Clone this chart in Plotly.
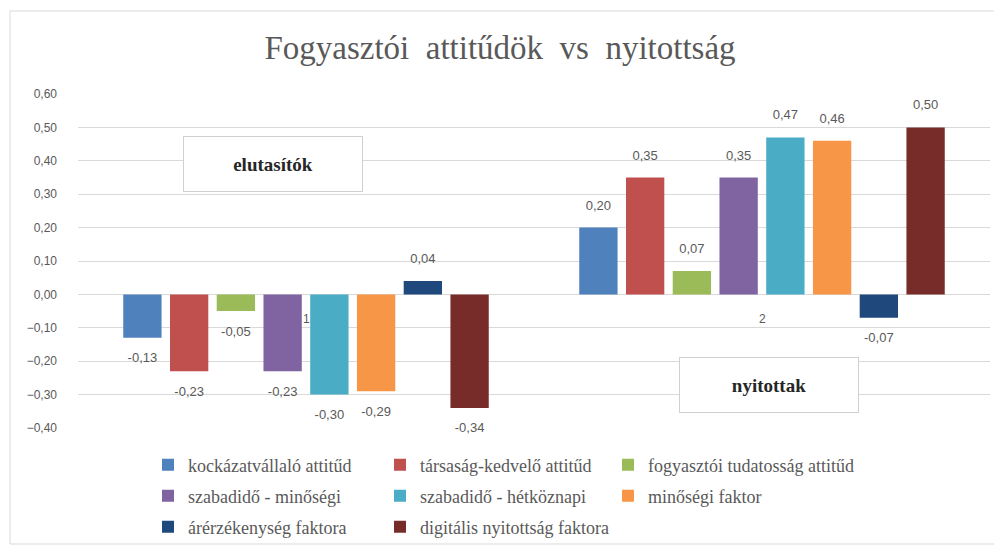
import plotly.graph_objects as go

categories = ["1", "2"]
series_names = [
    "kockázatvállaló attitűd",
    "társaság-kedvelő attitűd",
    "fogyasztói tudatosság attitűd",
    "szabadidő - minőségi",
    "szabadidő - hétköznapi",
    "minőségi faktor",
    "árérzékenység faktora",
    "digitális nyitottság faktora",
]
values = [
    [-0.13, 0.20],
    [-0.23, 0.35],
    [-0.05, 0.07],
    [-0.23, 0.35],
    [-0.30, 0.47],
    [-0.29, 0.46],
    [0.04, -0.07],
    [-0.34, 0.50],
]
colors = ["#4F81BD", "#C0504D", "#9BBB59", "#8064A2", "#4BACC6", "#F79646", "#1F497D", "#772C2A"]
y_ticks = [-0.4, -0.3, -0.2, -0.1, 0.0, 0.1, 0.2, 0.3, 0.4, 0.5, 0.6]

# the page body has an 8px margin; figure is sized to fill the rest of the window
OX, OY = 8, 8
W, H = 1002 - OX, 551 - OY
# plot area in page pixels: x 78..990, y 94..428
L = 78 - OX
R = W - (990 - OX)
T = 94 - OY
B = H - (428 - OY)
pw, ph = W - L - R, H - T - B

def px_x(px):
    return (px - OX - L) / pw

def px_y(py):
    return (H - B - (py - OY)) / ph

# legend grid: 3 columns, 3 rows (page pixel positions of each entry)
leg_cols = [148, 380, 608]
leg_rows = [465, 496, 527]
leg_font = dict(family="Liberation Serif", size=18, color="#595959")

fig = go.Figure()
legends = {}
for i, (name, vals, col) in enumerate(zip(series_names, values, colors)):
    lg = "legend" if i == 0 else f"legend{i + 1}"
    legends[lg] = dict(orientation="h", x=px_x(leg_cols[i % 3]), y=px_y(leg_rows[i // 3]),
                       xref="paper", yref="paper", xanchor="left", yanchor="middle",
                       font=leg_font, bgcolor="rgba(0,0,0,0)", itemwidth=30)
    fig.add_trace(go.Bar(
        x=categories, y=vals, name=name, marker_color=col, marker_line_width=0,
        offsetgroup=str(i), legend=lg,
    ))
    fig.add_trace(go.Scatter(
        x=categories, y=vals, mode="markers+text", offsetgroup=str(i),
        text=[f"{v:.2f}".replace(".", ",") for v in vals],
        textposition=["top center" if v >= 0 else "bottom center" for v in vals],
        textfont=dict(family="Liberation Sans", size=13, color="#595959"),
        marker=dict(size=22, opacity=0), showlegend=False, hoverinfo="skip", cliponaxis=False,
    ))

label_font = dict(family="Liberation Serif", size=19, color="#262626", weight="bold")
annotations = [
    dict(x=idx, y=0, xref="x", yref="y", text=c, showarrow=False, yanchor="top", yshift=-16,
         font=dict(family="Liberation Sans", size=12, color="#595959"))
    for idx, c in enumerate(categories)
]
annotations += [
    dict(x=px_x(273), y=px_y(163.5), xref="paper", yref="paper", text="elutasítók", showarrow=False,
         xanchor="center", yanchor="middle",
         width=176, height=52, bordercolor="#d0d0d0", borderwidth=1, bgcolor="white", font=label_font),
    dict(x=px_x(769), y=px_y(385), xref="paper", yref="paper", text="nyitottak", showarrow=False,
         xanchor="center", yanchor="middle",
         width=176, height=52, bordercolor="#d0d0d0", borderwidth=1, bgcolor="white", font=label_font),
]

fig.update_layout(
    width=W, height=H,
    margin=dict(l=L, r=R, t=T, b=B, autoexpand=False),
    paper_bgcolor="white", plot_bgcolor="white",
    separators=", ",
    title=dict(text="Fogyasztói \u00a0attitűdök \u00a0vs \u00a0nyitottság", x=(500 - OX) / W,
               xref="container", xanchor="center", y=1 - (47 - OY) / H, yanchor="middle",
               font=dict(family="Liberation Serif", size=33, color="#595959")),
    barmode="group", bargap=0.18, bargroupgap=0.18, scattermode="group",
    xaxis=dict(type="category", range=[-0.5, 1.5], showticklabels=False, showgrid=False,
               zeroline=False, showline=False, ticks=""),
    yaxis=dict(range=[-0.4, 0.6], tickvals=y_ticks, tickformat=".2f",
               showgrid=True, gridcolor="#d9d9d9", gridwidth=1,
               zeroline=True, zerolinecolor="#d9d9d9", zerolinewidth=1,
               showline=False, ticks="", ticklabelstandoff=20,
               tickfont=dict(family="Liberation Sans", size=12, color="#595959")),
    annotations=annotations,
    shapes=[dict(type="rect", xref="paper", yref="paper",
                 x0=px_x(10), x1=px_x(1001), y0=px_y(544), y1=px_y(11),
                 line=dict(color="#d9d9d9", width=1), fillcolor="rgba(0,0,0,0)", layer="below")],
    **legends,
)

fig.write_html("out.html")
